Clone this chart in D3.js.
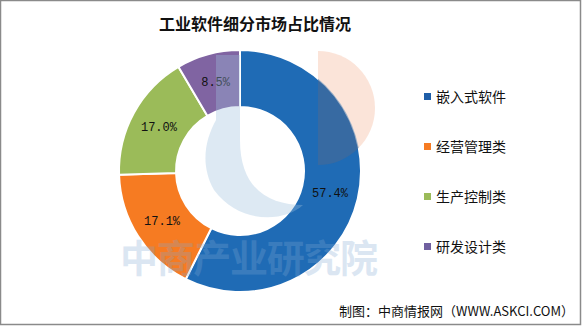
<!DOCTYPE html>
<html><head><meta charset="utf-8">
<script src="https://cdn.jsdelivr.net/npm/d3@7"></script>
<style>html,body{margin:0;padding:0;background:#fff;}svg{display:block;}</style>
</head><body>
<svg id="c" width="588" height="327"></svg>
<script>
const title = "工业软件细分市场占比情况";
const categories = ["嵌入式软件", "经营管理类", "生产控制类", "研发设计类"];
const values = [57.4, 17.1, 17.0, 8.5];
const valueLabels = ["57.4%", "17.1%", "17.0%", "8.5%"];
const colors = ["#1f6bb5", "#f67b22", "#9bbb59", "#8064a2"];
const legendColors = ["#1f5ea8", "#f67b22", "#9bbb59", "#7060a0"];
const source = "制图：中商情报网（WWW.ASKCI.COM）";
const watermark = "中商产业研究院";

const svg = d3.select("#c");
svg.append("rect").attr("x",0.5).attr("y",0.5).attr("width",580).attr("height",324)
  .attr("fill","#fff").attr("stroke","#8a8a8a").attr("stroke-width",1.5);

svg.append("text").attr("x",255).attr("y",30).attr("text-anchor","middle")
  .attr("font-family","Noto Sans CJK SC").attr("font-weight","bold").attr("font-size",16)
  .attr("fill","#111").text(title);

const cx = 240, cy = 171, rOut = 121, rIn = 64;
const defs = svg.append("defs");
defs.append("clipPath").attr("id","outside")
  .append("path").attr("clip-rule","evenodd")
  .attr("d", `M0,0H588V327H0Z M${cx+rOut},${cy} A${rOut},${rOut} 0 1,0 ${cx-rOut},${cy} A${rOut},${rOut} 0 1,0 ${cx+rOut},${cy}Z`);
defs.append("clipPath").attr("id","inside")
  .append("circle").attr("cx",cx).attr("cy",cy).attr("r",rOut);

const g = svg.append("g").attr("transform",`translate(${cx},${cy})`);
const pie = d3.pie().sort(null).value(d=>d);
const arcs = pie(values);
const arc = d3.arc().innerRadius(rIn).outerRadius(rOut);
g.selectAll("path.s").data(arcs).join("path").attr("class","s")
  .attr("d",arc).attr("fill",(d,i)=>colors[i]).attr("stroke","#fff").attr("stroke-width",2);

// faint logo watermark
const wm = svg.append("g");
const halfDisc = d3.arc().innerRadius(0).outerRadius(57).startAngle(0).endAngle(Math.PI)();
wm.append("g").attr("clip-path","url(#outside)")
  .append("path").attr("d", halfDisc).attr("transform","translate(318,108)")
  .attr("fill","#f4b393").attr("opacity",0.35);
wm.append("g").attr("clip-path","url(#inside)")
  .append("path").attr("d", halfDisc).attr("transform","translate(318,108)")
  .attr("fill","#4a6a92").attr("opacity",0.55);
wm.append("path")
  .attr("d","M216,55 L240,55 L240,140 C240,190 270,205 303,205 C285,222 240,225 214,190 C200,165 205,140 216,120 Z")
  .attr("fill","#9fc0de").attr("opacity",0.35);

g.selectAll("text.v").data(arcs).join("text").attr("class","v")
  .attr("transform",d=>`translate(${arc.centroid(d)})`)
  .attr("text-anchor","middle").attr("dy","0.35em")
  .attr("font-family","Liberation Mono, DejaVu Sans Mono, monospace").attr("font-size",12)
  .attr("fill","#111").text((d,i)=>valueLabels[i]);

svg.append("text").attr("x",120).attr("y",272)
  .attr("font-family","Noto Sans CJK SC").attr("font-weight","bold").attr("font-size",38)
  .attr("fill","#7fa8d4").attr("opacity",0.28).attr("textLength",258).text(watermark);

const ly = d3.scalePoint().domain(categories).range([97,247]);
const lg = svg.append("g");
categories.forEach((c,i)=>{
  lg.append("rect").attr("x",424).attr("y",ly(c)-4).attr("width",7).attr("height",7).attr("fill",legendColors[i]);
  lg.append("text").attr("x",436).attr("y",ly(c)).attr("dy","0.36em")
    .attr("font-family","Noto Sans CJK SC").attr("font-size",14).attr("fill","#111").text(c);
});

svg.append("text").attr("x",574).attr("y",316).attr("text-anchor","end")
  .attr("font-family","Noto Sans CJK SC").attr("font-size",13).attr("fill","#111").text(source);
</script>
</body></html>
